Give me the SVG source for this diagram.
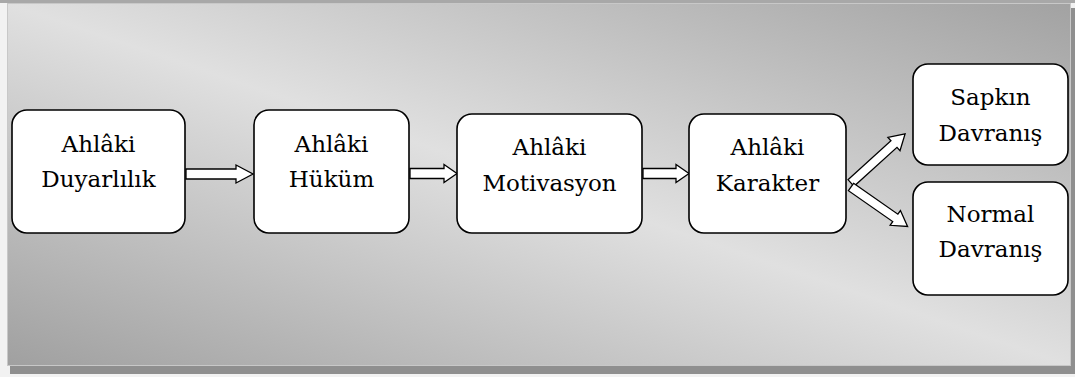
<svg xmlns="http://www.w3.org/2000/svg" width="1075" height="377" viewBox="0 0 1075 377">
  <defs>
    <linearGradient id="panelFill" x1="0" y1="1" x2="1" y2="0">
      <stop offset="0" stop-color="#a0a0a0"/>
      <stop offset="0.5" stop-color="#e0e0e0"/>
      <stop offset="1" stop-color="#a2a2a2"/>
    </linearGradient>
    <style>
      .box { fill: #ffffff; stroke: #000000; stroke-width: 1.6; }
      .arrow { fill: #ffffff; stroke: #000000; stroke-width: 1.3; stroke-linejoin: miter; }
      .label { font-family: "DejaVu Serif", serif; font-size: 23px; fill: #000000; text-anchor: middle; }
    </style>
  </defs>

  <!-- page and panel frame -->
  <rect x="0" y="0" width="1075" height="377" fill="#f2f2f2"/>
  <rect x="0" y="0" width="1075" height="3" fill="#a8a8a8"/>
  <rect x="10" y="8" width="1065" height="366" fill="#8f8f8f"/>
  <rect x="7.5" y="3.5" width="1063" height="362" fill="url(#panelFill)" stroke="#c8c8c8" stroke-width="1"/>

  <!-- connectors -->
  <g id="connectors">
    <polygon class="arrow" transform="translate(186,174)" points="0,-5 50,-5 50,-9 67,0 50,9 50,5 0,5"/>
    <polygon class="arrow" transform="translate(410,173.5)" points="0,-5 34,-5 34,-9 47,0 34,9 34,5 0,5"/>
    <polygon class="arrow" transform="translate(643,173.5)" points="0,-5 33,-5 33,-9 46,0 33,9 33,5 0,5"/>
    <polygon class="arrow" transform="translate(851,183) rotate(-42.2)" points="0,-4.5 58,-4.5 58,-9 73,0 58,9 58,4.5 0,4.5"/>
    <polygon class="arrow" transform="translate(851,187) rotate(34.9)" points="0,-4.5 54,-4.5 54,-9 69,0 54,9 54,4.5 0,4.5"/>
  </g>

  <!-- nodes -->
  <g id="node-duyarlilik">
    <rect class="box" x="12" y="110" width="173" height="123" rx="15"/>
    <text class="label" x="98.5" y="152">Ahlâki</text>
    <text class="label" x="98.5" y="187">Duyarlılık</text>
  </g>
  <g id="node-hukum">
    <rect class="box" x="254" y="110" width="155" height="123" rx="15"/>
    <text class="label" x="331.5" y="152">Ahlâki</text>
    <text class="label" x="331.5" y="187">Hüküm</text>
  </g>
  <g id="node-motivasyon">
    <rect class="box" x="457" y="114" width="185" height="119" rx="15"/>
    <text class="label" x="549.5" y="155">Ahlâki</text>
    <text class="label" x="549.5" y="191">Motivasyon</text>
  </g>
  <g id="node-karakter">
    <rect class="box" x="689" y="114" width="157" height="119" rx="15"/>
    <text class="label" x="767.5" y="155">Ahlâki</text>
    <text class="label" x="767.5" y="191">Karakter</text>
  </g>
  <g id="node-sapkin">
    <rect class="box" x="913" y="64" width="155" height="101" rx="15"/>
    <text class="label" x="990.5" y="105">Sapkın</text>
    <text class="label" x="990.5" y="141">Davranış</text>
  </g>
  <g id="node-normal">
    <rect class="box" x="913" y="182" width="155" height="113" rx="15"/>
    <text class="label" x="990.5" y="222">Normal</text>
    <text class="label" x="990.5" y="257">Davranış</text>
  </g>
</svg>
